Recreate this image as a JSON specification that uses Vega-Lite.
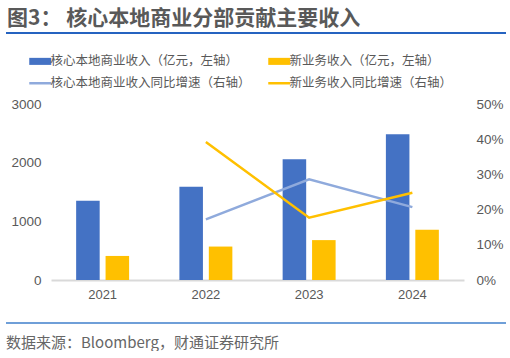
{
  "$schema": "https://vega.github.io/schema/vega-lite/v6.json",
  "padding": {"left": 5, "right": 5, "top": 8, "bottom": 0},
  "background": "white",
  "spacing": 19,
  "title": {
    "text": "图3：  核心本地商业分部贡献主要收入",
    "anchor": "start",
    "font": "Noto Sans CJK SC",
    "fontSize": 21,
    "fontWeight": "bold",
    "color": "#595959",
    "offset": 3,
    "dx": 2
  },
  "config": {
    "font": "Liberation Sans",
    "view": {"stroke": null},
    "title": {"color": "#595959"}
  },
  "resolve": {"legend": {"color": "independent"}},
  "datasets": {
    "bars": [
      {"year": "2021", "series": "核心本地商业收入（亿元，左轴）", "value": 1350},
      {"year": "2021", "series": "新业务收入（亿元，左轴）", "value": 410},
      {"year": "2022", "series": "核心本地商业收入（亿元，左轴）", "value": 1590},
      {"year": "2022", "series": "新业务收入（亿元，左轴）", "value": 570},
      {"year": "2023", "series": "核心本地商业收入（亿元，左轴）", "value": 2060},
      {"year": "2023", "series": "新业务收入（亿元，左轴）", "value": 680},
      {"year": "2024", "series": "核心本地商业收入（亿元，左轴）", "value": 2485},
      {"year": "2024", "series": "新业务收入（亿元，左轴）", "value": 855}
    ],
    "lines": [
      {"year": "2022", "series": "核心本地商业收入同比增速（右轴）", "growth": 0.172},
      {"year": "2023", "series": "核心本地商业收入同比增速（右轴）", "growth": 0.286},
      {"year": "2024", "series": "核心本地商业收入同比增速（右轴）", "growth": 0.207},
      {"year": "2022", "series": "新业务收入同比增速（右轴）", "growth": 0.392},
      {"year": "2023", "series": "新业务收入同比增速（右轴）", "growth": 0.177},
      {"year": "2024", "series": "新业务收入同比增速（右轴）", "growth": 0.248}
    ],
    "frame": [{"a": 0, "b": 1, "c": 0.5}]
  },
  "vconcat": [
    {
      "data": {"name": "frame"},
      "width": 500,
      "height": 2,
      "view": {"fill": "#2563c0", "stroke": null},
      "mark": {"type": "rule", "color": "#2563c0", "strokeWidth": 2},
      "encoding": {
        "x": {"field": "a", "type": "quantitative", "scale": {"domain": [0, 1], "nice": false, "zero": false}, "axis": null},
        "x2": {"field": "b"},
        "y": {"field": "c", "type": "quantitative", "scale": {"domain": [0, 1], "nice": false}, "axis": null}
      }
    },
    {
      "width": 500,
      "height": 176,
      "encoding": {
        "x": {
          "field": "year",
          "type": "nominal",
          "scale": {"range": [45, 458], "paddingInner": 0.487, "paddingOuter": 0.2435},
          "axis": {
            "title": null,
            "labelAngle": 0,
            "ticks": false,
            "domainColor": "#d9d9d9",
            "domainWidth": 2,
            "labelColor": "#595959",
            "labelFontSize": 13,
            "labelPadding": 8
          }
        },
        "color": {
          "field": "series",
          "type": "nominal",
          "scale": {
            "domain": ["核心本地商业收入（亿元，左轴）", "新业务收入（亿元，左轴）", "核心本地商业收入同比增速（右轴）", "新业务收入同比增速（右轴）"],
            "range": ["#4472C4", "#FFC000", "#8FAADC", "#FFC000"]
          },
          "legend": {
            "title": null,
            "orient": "none",
            "legendX": 26,
            "legendY": -51,
            "direction": "horizontal",
            "columns": 2,
            "columnPadding": 12,
            "rowPadding": 9,
            "padding": 2,
            "labelFont": "Noto Sans CJK SC",
            "labelFontSize": 12.5,
            "labelColor": "#595959",
            "labelLimit": 400,
            "labelOffset": 4,
            "symbolSize": 484,
            "encode": {
              "symbols": {
                "update": {
                  "shape": {"signal": "datum.index >= 2 ? 'stroke' : 'M-1,-0.32H1V0.32H-1Z'"},
                  "fill": {"signal": "datum.index >= 2 ? 'transparent' : ['#4472C4','#FFC000','#8FAADC','#FFC000'][datum.index]"},
                  "stroke": {"signal": "datum.index >= 2 ? ['#4472C4','#FFC000','#8FAADC','#FFC000'][datum.index] : 'transparent'"},
                  "strokeWidth": {"signal": "datum.index >= 2 ? 2.5 : 0"},
                  "opacity": {"value": 1}
                }
              }
            }
          }
        }
      },
      "layer": [
        {
          "data": {"name": "bars"},
          "mark": {"type": "bar"},
          "encoding": {
            "xOffset": {
              "field": "series",
              "type": "nominal",
              "sort": ["核心本地商业收入（亿元，左轴）", "新业务收入（亿元，左轴）"],
              "scale": {"paddingInner": 0.2, "paddingOuter": 0}
            },
            "y": {
              "field": "value",
              "type": "quantitative",
              "scale": {"domain": [0, 3000]},
              "axis": {
                "title": null,
                "offset": -45,
                "values": [0, 1000, 2000, 3000],
                "format": "d",
                "grid": false,
                "ticks": false,
                "domain": false,
                "labelColor": "#595959",
                "labelFontSize": 13.5,
                "labelPadding": 10,
                "minExtent": 0
              }
            }
          }
        },
        {
          "data": {"name": "lines"},
          "mark": {"type": "line", "strokeWidth": 2.5},
          "encoding": {
            "y": {
              "field": "growth",
              "type": "quantitative",
              "scale": {"domain": [0, 0.5]},
              "axis": {
                "title": null,
                "orient": "right",
                "offset": -42,
                "values": [0, 0.1, 0.2, 0.3, 0.4, 0.5],
                "format": ".0%",
                "grid": false,
                "ticks": false,
                "domain": false,
                "labelColor": "#595959",
                "labelFontSize": 13.5,
                "labelPadding": 12,
                "minExtent": 0
              }
            }
          }
        }
      ],
      "resolve": {"scale": {"y": "independent"}}
    },
    {
      "data": {"values": [{"k": 1}]},
      "width": 500,
      "height": 2,
      "view": {"fill": "#6f9fd8", "stroke": null},
      "title": {
        "text": "数据来源：Bloomberg，财通证券研究所",
        "orient": "bottom",
        "anchor": "start",
        "font": "Noto Sans CJK SC",
        "fontSize": 15,
        "fontWeight": "normal",
        "color": "#666666",
        "offset": 10
      },
      "mark": {"type": "point", "opacity": 0},
      "encoding": {}
    }
  ]
}
